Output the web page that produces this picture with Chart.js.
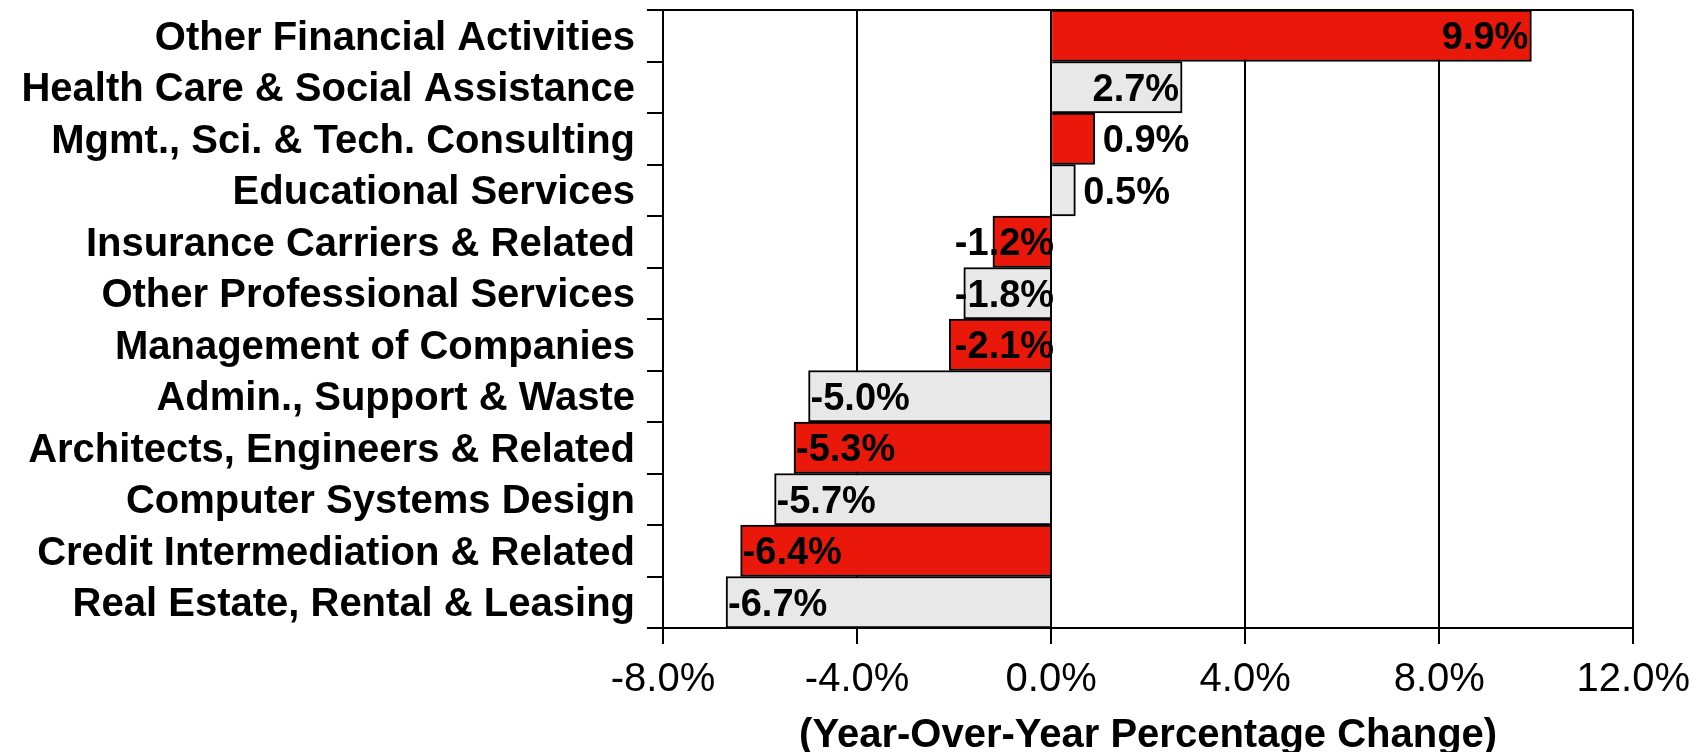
<!DOCTYPE html>
<html>
<head>
<meta charset="utf-8">
<script src="https://cdn.jsdelivr.net/npm/chart.js@4"></script>
<style>
  html, body { margin: 0; padding: 0; background: #fff; }
  #wrap { width: 1702px; height: 752px; }
</style>
</head>
<body>
<div id="wrap"><canvas id="myChart"></canvas></div>
<script>
// categories, top to bottom
const industries = [
    'Other Financial Activities',
    'Health Care & Social Assistance',
    'Mgmt., Sci. & Tech. Consulting',
    'Educational Services',
    'Insurance Carriers & Related',
    'Other Professional Services',
    'Management of Companies',
    'Admin., Support & Waste',
    'Architects, Engineers & Related',
    'Computer Systems Design',
    'Credit Intermediation & Related',
    'Real Estate, Rental & Leasing'
];
const yoyChange = [9.9, 2.7, 0.9, 0.5, -1.2, -1.8, -2.1, -5.0, -5.3, -5.7, -6.4, -6.7];
const xTicks = [-8, -4, 0, 4, 8, 12];

const RED = '#EA180A';
const GREY = '#E8E8E8';
const FONT = "'Liberation Sans', Arial, sans-serif";

// alternate red / grey
const barColors = yoyChange.map((v, i) => i % 2 === 0 ? RED : GREY);

// value labels, placed like the original (inside when they fit)
const barLabels = {
    id: 'barLabels',
    afterDatasetsDraw(chart) {
        const ctx = chart.ctx;
        const meta = chart.getDatasetMeta(0);
        ctx.save();
        ctx.font = 'bold 38px ' + FONT;
        ctx.fillStyle = '#000';
        ctx.textBaseline = 'middle';
        meta.data.forEach(function(bar, i) {
            const v = yoyChange[i];
            const txt = v.toFixed(1) + '%';
            const w = ctx.measureText(txt).width;
            const len = Math.abs(bar.x - bar.base);
            const y = bar.y + 3;
            if (v >= 0) {
                if (w + 4 < len) {
                    ctx.textAlign = 'right';
                    ctx.fillText(txt, bar.x - 3, y);
                } else {
                    ctx.textAlign = 'left';
                    ctx.fillText(txt, bar.x + 8, y);
                }
            } else {
                if (w + 4 < len) {
                    ctx.textAlign = 'left';
                    ctx.fillText(txt, bar.x + 2, y);
                } else {
                    ctx.textAlign = 'right';
                    ctx.fillText(txt, bar.base + 4, y);
                }
            }
        });
        ctx.restore();
    }
};

// top border of the plot
const topLine = {
    id: 'topLine',
    afterDraw(chart) {
        const a = chart.chartArea;
        const ctx = chart.ctx;
        ctx.save();
        ctx.strokeStyle = '#000';
        ctx.lineWidth = 2;
        ctx.beginPath();
        ctx.moveTo(a.left, a.top);
        ctx.lineTo(a.right, a.top);
        ctx.stroke();
        ctx.restore();
    }
};

const myChart = new Chart(document.getElementById('myChart'), {
    type: 'bar',
    data: {
        labels: industries,
        datasets: [{
            data: yoyChange,
            backgroundColor: barColors,
            borderColor: '#000',
            borderWidth: 2,
            barPercentage: 1,
            categoryPercentage: 1
        }]
    },
    options: {
        indexAxis: 'y',
        responsive: true,
        maintainAspectRatio: false,
        animation: false,
        layout: { padding: { top: 10, right: 67, left: 0, bottom: 0 } },
        plugins: {
            legend: { display: false },
            tooltip: { enabled: false }
        },
        scales: {
            x: {
                min: -8,
                max: 12,
                afterBuildTicks(scale) {
                    scale.ticks = xTicks.map(v => ({ value: v }));
                },
                afterFit(scale) { scale.height = 124; },
                grid: {
                    color: '#000',
                    lineWidth: 2,
                    tickLength: 16,
                    tickColor: '#000'
                },
                border: { display: true, color: '#000', width: 2 },
                ticks: {
                    color: '#000',
                    padding: 12,
                    font: { family: FONT, size: 40 },
                    callback: v => v.toFixed(1) + '%'
                },
                title: {
                    display: true,
                    text: '(Year-Over-Year Percentage Change)',
                    color: '#000',
                    padding: 0,
                    font: { family: FONT, size: 40, weight: 'bold', lineHeight: 0.82 }
                }
            },
            y: {
                afterFit(scale) {
                    scale.width = 663;
                    scale.paddingTop = 0;
                    scale.paddingBottom = 0;
                },
                grid: {
                    offset: true,
                    drawOnChartArea: false,
                    color: '#000',
                    lineWidth: 2,
                    tickLength: 16
                },
                border: { display: true, color: '#000', width: 2 },
                ticks: {
                    autoSkip: false,
                    color: '#000',
                    padding: 12,
                    labelOffset: 3,
                    font: { family: FONT, size: 40, weight: 'bold' }
                }
            }
        }
    },
    plugins: [barLabels, topLine]
});
</script>
</body>
</html>
